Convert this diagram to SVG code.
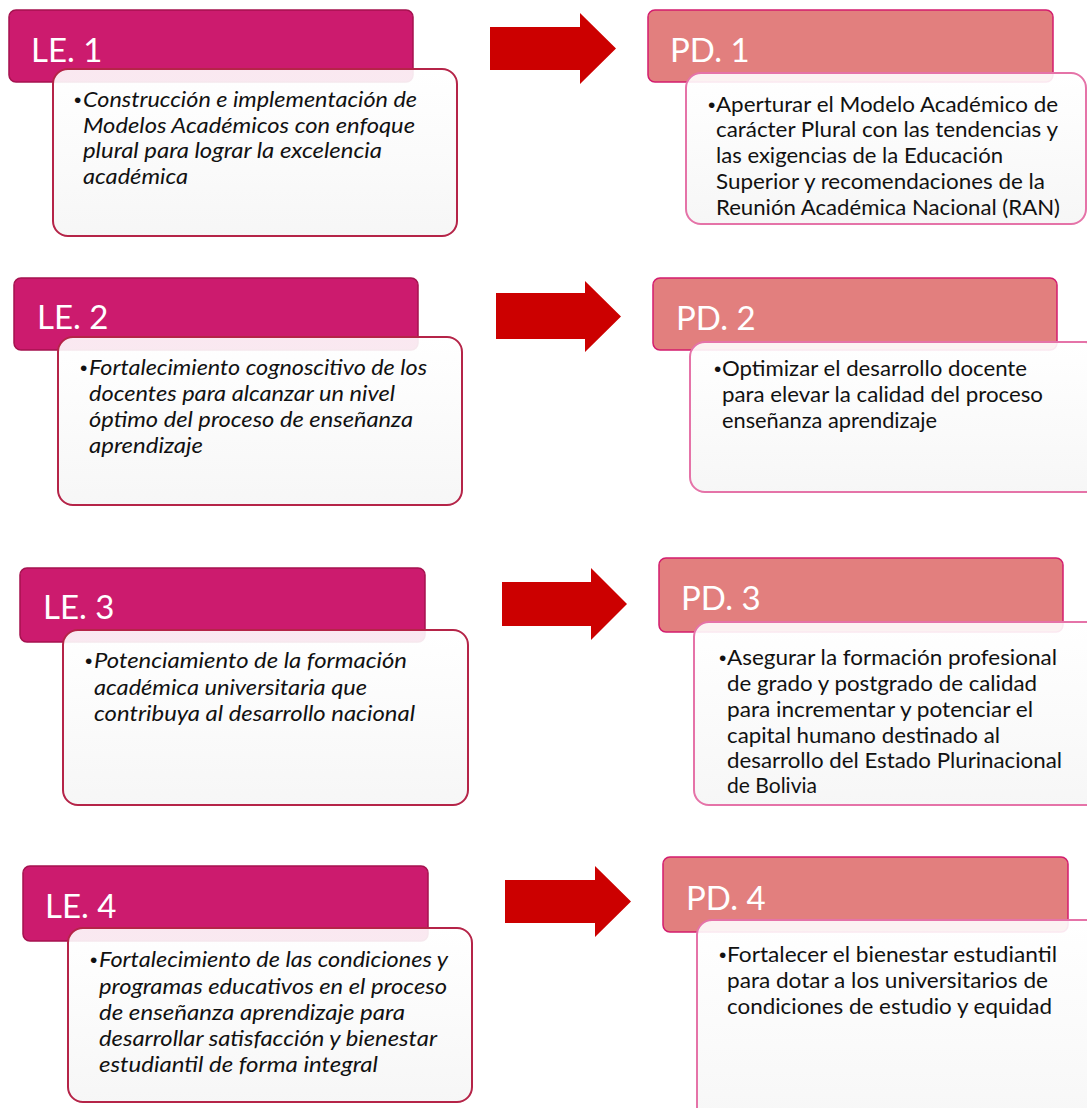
<svg xmlns="http://www.w3.org/2000/svg" width="1087" height="1108" viewBox="0 0 1087 1108">
<defs>
<linearGradient id="bodyGrad" x1="0" y1="0" x2="0" y2="1">
<stop offset="0" stop-color="#ffffff" stop-opacity="0.9"/>
<stop offset="1" stop-color="#f6f6f6" stop-opacity="0.95"/>
</linearGradient>
</defs>
<style>
.le-h{fill:#CC1B6E;stroke:#A5124F;stroke-width:1.5}
.le-b{fill:url(#bodyGrad);stroke:#B52448;stroke-width:2}
.pd-h{fill:#E27F7E;stroke:#D31C6E;stroke-width:1.5}
.pd-b{fill:url(#bodyGrad);stroke:#E573A8;stroke-width:2}
.ht{font-family:Lato,"Open Sans","Liberation Sans",sans-serif;font-size:33px;fill:#ffffff}
.lt{font-family:Lato,"Open Sans","Liberation Sans",sans-serif;font-style:italic;font-size:21px;fill:#111111}
.pt{font-family:Lato,"Open Sans","Liberation Sans",sans-serif;font-size:21px;fill:#111111}
.bl{font-family:"Liberation Sans",sans-serif;font-size:21px;fill:#111111}
.arrow{fill:#CC0000}
</style>
<rect width="1087" height="1108" fill="#ffffff"/>

<g id="LE1">
<rect class="le-h" x="9" y="10" width="404" height="72" rx="7"/>
<text class="ht" x="31" y="62">LE. 1</text>
<rect class="le-b" x="53" y="69" width="404" height="167" rx="15"/>
<text class="bl" x="74" y="107">•</text>
<text class="lt" x="83" y="107" textLength="334" lengthAdjust="spacingAndGlyphs">Construcción e implementación de</text>
<text class="lt" x="83" y="133" textLength="332" lengthAdjust="spacingAndGlyphs">Modelos Académicos con enfoque</text>
<text class="lt" x="83" y="158" textLength="299" lengthAdjust="spacingAndGlyphs">plural para lograr la excelencia</text>
<text class="lt" x="83" y="184" textLength="105" lengthAdjust="spacingAndGlyphs">académica</text>
</g>

<g id="LE2">
<rect class="le-h" x="14" y="278" width="404" height="72" rx="7"/>
<text class="ht" x="37" y="329">LE. 2</text>
<rect class="le-b" x="58" y="337" width="404" height="168" rx="15"/>
<text class="bl" x="80" y="375">•</text>
<text class="lt" x="89" y="375" textLength="338" lengthAdjust="spacingAndGlyphs">Fortalecimiento cognoscitivo de los</text>
<text class="lt" x="89" y="401" textLength="306" lengthAdjust="spacingAndGlyphs">docentes para alcanzar un nivel</text>
<text class="lt" x="89" y="427" textLength="324" lengthAdjust="spacingAndGlyphs">óptimo del proceso de enseñanza</text>
<text class="lt" x="89" y="453" textLength="114" lengthAdjust="spacingAndGlyphs">aprendizaje</text>
</g>

<g id="LE3">
<rect class="le-h" x="20" y="568" width="405" height="74" rx="7"/>
<text class="ht" x="43" y="619">LE. 3</text>
<rect class="le-b" x="63" y="630" width="405" height="175" rx="15"/>
<text class="bl" x="85" y="668">•</text>
<text class="lt" x="94" y="668" textLength="313" lengthAdjust="spacingAndGlyphs">Potenciamiento de la formación</text>
<text class="lt" x="94" y="695" textLength="273" lengthAdjust="spacingAndGlyphs">académica universitaria que</text>
<text class="lt" x="94" y="721" textLength="321" lengthAdjust="spacingAndGlyphs">contribuya al desarrollo nacional</text>
</g>

<g id="LE4">
<rect class="le-h" x="23" y="866" width="405" height="75" rx="7"/>
<text class="ht" x="45" y="918">LE. 4</text>
<rect class="le-b" x="68" y="928" width="404" height="174" rx="15"/>
<text class="bl" x="90" y="967">•</text>
<text class="lt" x="99" y="967" textLength="349" lengthAdjust="spacingAndGlyphs">Fortalecimiento de las condiciones y</text>
<text class="lt" x="99" y="994" textLength="348" lengthAdjust="spacingAndGlyphs">programas educativos en el proceso</text>
<text class="lt" x="99" y="1020" textLength="306" lengthAdjust="spacingAndGlyphs">de enseñanza aprendizaje para</text>
<text class="lt" x="99" y="1046" textLength="338" lengthAdjust="spacingAndGlyphs">desarrollar satisfacción y bienestar</text>
<text class="lt" x="99" y="1072" textLength="279" lengthAdjust="spacingAndGlyphs">estudiantil de forma integral</text>
</g>

<g id="PD1">
<rect class="pd-h" x="648" y="10" width="405" height="72" rx="7"/>
<text class="ht" x="670" y="62">PD. 1</text>
<rect class="pd-b" x="686" y="73" width="400" height="151" rx="15"/>
<text class="bl" x="708" y="112">•</text>
<text class="pt" x="716" y="112" textLength="342" lengthAdjust="spacingAndGlyphs">Aperturar el Modelo Académico de</text>
<text class="pt" x="716" y="137" textLength="342" lengthAdjust="spacingAndGlyphs">carácter Plural con las tendencias y</text>
<text class="pt" x="716" y="163" textLength="287" lengthAdjust="spacingAndGlyphs">las exigencias de la Educación</text>
<text class="pt" x="716" y="189" textLength="329" lengthAdjust="spacingAndGlyphs">Superior y recomendaciones de la</text>
<text class="pt" x="716" y="215" textLength="344" lengthAdjust="spacingAndGlyphs">Reunión Académica Nacional (RAN)</text>
</g>

<g id="PD2">
<rect class="pd-h" x="653" y="278" width="404" height="72" rx="7"/>
<text class="ht" x="676" y="330">PD. 2</text>
<rect class="pd-b" x="690" y="342" width="410" height="150" rx="15"/>
<text class="bl" x="714" y="376">•</text>
<text class="pt" x="722" y="376" textLength="305" lengthAdjust="spacingAndGlyphs">Optimizar el desarrollo docente</text>
<text class="pt" x="722" y="402" textLength="321" lengthAdjust="spacingAndGlyphs">para elevar la calidad del proceso</text>
<text class="pt" x="722" y="428" textLength="215" lengthAdjust="spacingAndGlyphs">enseñanza aprendizaje</text>
</g>

<g id="PD3">
<rect class="pd-h" x="659" y="558" width="404" height="74" rx="7"/>
<text class="ht" x="681" y="610">PD. 3</text>
<rect class="pd-b" x="694" y="622" width="410" height="183" rx="15"/>
<text class="bl" x="719" y="665">•</text>
<text class="pt" x="727" y="665" textLength="330" lengthAdjust="spacingAndGlyphs">Asegurar la formación profesional</text>
<text class="pt" x="727" y="691" textLength="310" lengthAdjust="spacingAndGlyphs">de grado y postgrado de calidad</text>
<text class="pt" x="727" y="717" textLength="306" lengthAdjust="spacingAndGlyphs">para incrementar y potenciar el</text>
<text class="pt" x="727" y="743" textLength="273" lengthAdjust="spacingAndGlyphs">capital humano destinado al</text>
<text class="pt" x="727" y="768" textLength="335" lengthAdjust="spacingAndGlyphs">desarrollo del Estado Plurinacional</text>
<text class="pt" x="727" y="793" textLength="90" lengthAdjust="spacingAndGlyphs">de Bolivia</text>
</g>

<g id="PD4">
<rect class="pd-h" x="663" y="857" width="405" height="75" rx="7"/>
<text class="ht" x="686" y="910">PD. 4</text>
<rect class="pd-b" x="697" y="920" width="410" height="210" rx="15"/>
<text class="bl" x="719" y="962">•</text>
<text class="pt" x="727" y="962" textLength="330" lengthAdjust="spacingAndGlyphs">Fortalecer el bienestar estudiantil</text>
<text class="pt" x="727" y="988" textLength="321" lengthAdjust="spacingAndGlyphs">para dotar a los universitarios de</text>
<text class="pt" x="727" y="1014" textLength="325" lengthAdjust="spacingAndGlyphs">condiciones de estudio y equidad</text>
</g>

<g id="connectors">
<polygon class="arrow" points="490,27 580,27 580,13 616,48.5 580,84 580,70 490,70"/>
<polygon class="arrow" points="496,293 585,293 585,281 621,316.5 585,352 585,339 496,339"/>
<polygon class="arrow" points="502,582 591,582 591,568 627,604 591,640 591,626 502,626"/>
<polygon class="arrow" points="505,880 595,880 595,866 631,901.5 595,937 595,923 505,923"/>
</g>
</svg>
